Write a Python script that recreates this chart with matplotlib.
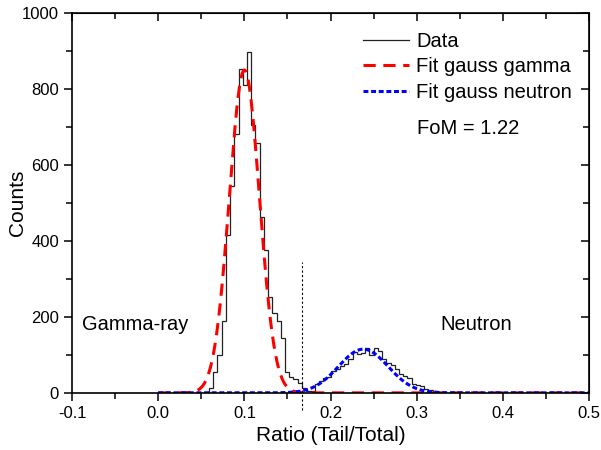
import numpy as np
import matplotlib
matplotlib.use("Agg")
import matplotlib.pyplot as plt
from matplotlib.ticker import MultipleLocator

plt.rcParams['font.family'] = ['Liberation Sans', 'DejaVu Sans']

# histogram of tail/total ratio
bin_start = 0.054
bin_width = 0.0049
counts = [3, 12, 56, 100, 188, 416, 545, 681, 853, 810, 898, 705, 657, 464, 376,
          253, 210, 188, 144, 56, 43, 37, 27, 12, 5,
          4, 22, 30, 40, 42, 58, 62, 70, 77, 88, 108, 102, 106, 118, 100, 117,
          110, 90, 78, 73, 62, 50, 45, 38, 22, 20, 18, 10, 8, 4, 2]

# gauss fit parameters (amplitude, centre, sigma)
gamma_fit = (850, 0.100, 0.0175)
neutron_fit = (115, 0.238, 0.0287)
fit_range = (0.0, 0.5)

# separation line
cut_x = 0.167
cut_y = (-45, 345)
fom = 1.22

edges = bin_start + bin_width * np.arange(len(counts) + 1)

def gauss(x, a, c, s):
    return a * np.exp(-(x - c) ** 2 / (2 * s ** 2))

xf = np.linspace(fit_range[0], fit_range[1], 1000)

fig = plt.figure(figsize=(6.01, 4.5), dpi=100)
ax = fig.add_axes([0.12, 0.127, 0.86, 0.844])

ax.stairs(counts, edges, color='#222222', lw=0.9, label='Data')
ax.plot(xf, gauss(xf, *gamma_fit), color='red', lw=2.2, ls=(0, (4, 2.5)),
        label='Fit gauss gamma')
ax.plot(xf, gauss(xf, *neutron_fit), color='blue', lw=2.2, ls=(0, (1.6, 0.9)),
        label='Fit gauss neutron')
ax.plot([cut_x, cut_x], cut_y, color='k', lw=0.8, ls=(0, (2, 2)), clip_on=False)

ax.set_xlim(-0.1, 0.5)
ax.set_ylim(0, 1000)
ax.xaxis.set_major_locator(MultipleLocator(0.1))
ax.xaxis.set_minor_locator(MultipleLocator(0.05))
ax.yaxis.set_major_locator(MultipleLocator(200))
ax.yaxis.set_minor_locator(MultipleLocator(100))
ax.set_xticklabels([f'{v:.1f}' for v in ax.get_xticks()])
ax.tick_params(which='both', direction='out', labelsize=12, width=1.1)
ax.tick_params(which='major', length=6)
ax.tick_params(which='minor', length=4)
for s in ax.spines.values():
    s.set_linewidth(1.2)

# inward ticks on top and right
axt = ax.secondary_xaxis('top')
axt.xaxis.set_major_locator(MultipleLocator(0.1))
axt.xaxis.set_minor_locator(MultipleLocator(0.05))
axt.tick_params(which='both', direction='in', labeltop=False, width=1.1)
axt.tick_params(which='major', length=6)
axt.tick_params(which='minor', length=4)
axr = ax.secondary_yaxis('right')
axr.yaxis.set_major_locator(MultipleLocator(200))
axr.yaxis.set_minor_locator(MultipleLocator(100))
axr.tick_params(which='both', direction='in', labelright=False, width=1.1)
axr.tick_params(which='major', length=6)
axr.tick_params(which='minor', length=4)

ax.set_xlabel('Ratio (Tail/Total)', fontsize=15)
ax.set_ylabel('Counts', fontsize=15)
ax.xaxis.set_label_coords(0.5, -0.088)
ax.yaxis.set_label_coords(-0.088, 0.5)

ax.text(-0.088, 179, 'Gamma-ray', fontsize=14.5, va='center')
ax.text(0.327, 179, 'Neutron', fontsize=14.5, va='center')

ax.legend(loc='upper left', bbox_to_anchor=(0.563, 0.95), frameon=False,
          fontsize=14.5, handlelength=2.3, handletextpad=0.35, labelspacing=0.32,
          borderpad=0, borderaxespad=0)
ax.text(0.300, 697, f'FoM = {fom}', fontsize=14.5, va='center')

fig.savefig('out.png', dpi=100)
